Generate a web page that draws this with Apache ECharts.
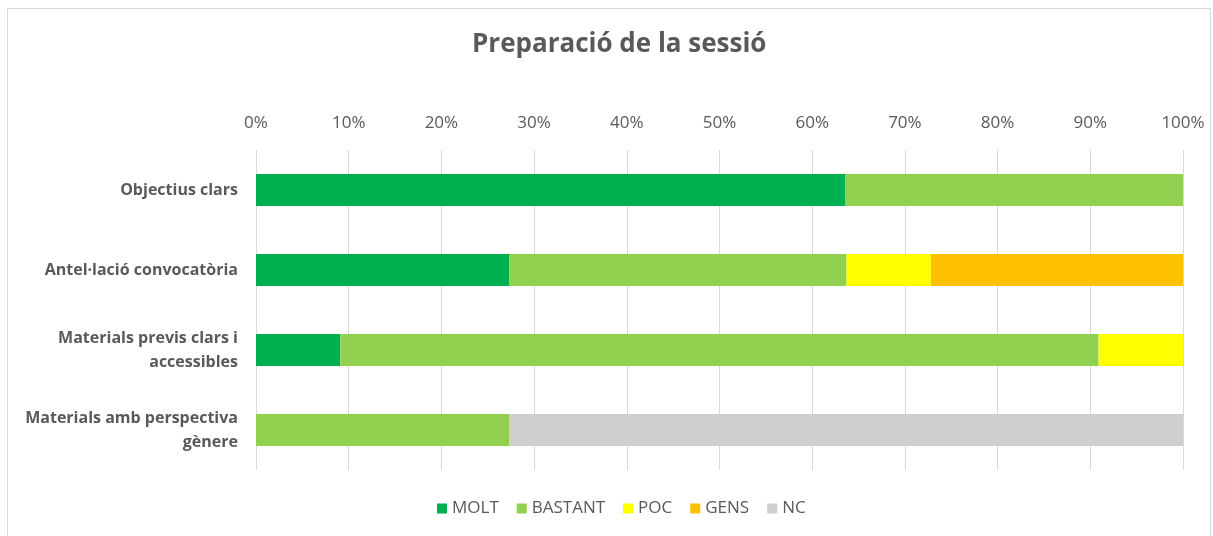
<!DOCTYPE html>
<html>
<head>
<meta charset="utf-8">
<script src="https://cdn.jsdelivr.net/npm/echarts@6/dist/echarts.min.js"></script>
<style>
  html, body { margin: 0; padding: 0; background: #fff; overflow: hidden; }
  #chart { width: 1213px; height: 536px; }
  .frame { position: absolute; left: 7px; top: 8px; width: 1202px; height: 540px; border: 1px solid #d9d9d9; pointer-events: none; }
</style>
</head>
<body>
<div id="chart"></div>
<div class="frame"></div>
<script>
// categories (top to bottom)
const categories = [
  'Objectius clars',
  'Antel·lació convocatòria',
  'Materials previs clars i\naccessibles',
  'Materials amb perspectiva\ngènere'
];

// percentages per answer
const molt    = [63.6, 27.3, 9.1, 0];
const bastant = [36.4, 36.4, 81.8, 27.3];
const poc     = [0, 9.1, 9.1, 0];
const gens    = [0, 27.3, 0, 0];
const nc      = [0, 0, 0, 72.7];

const seriesNames = ['MOLT', 'BASTANT', 'POC', 'GENS', 'NC'];
const seriesData = [molt, bastant, poc, gens, nc];
const colors = ['#00B050', '#92D050', '#FFFF00', '#FFC000', '#D0CECE'];

const chart = echarts.init(document.getElementById('chart'));

const font = '"Open Sans", "Noto Sans", sans-serif';

const option = {
  animation: false,
  textStyle: { fontFamily: font },
  title: {
    text: 'Preparació de la sessió',
    left: 467,
    top: 27,
    textStyle: { fontSize: 26, fontWeight: 'bold', color: '#595959', fontFamily: font }
  },
  legend: {
    data: seriesNames,
    bottom: 14,
    left: 432,
    itemWidth: 10,
    itemHeight: 10,
    itemGap: 18,
    icon: 'rect',
    textStyle: { fontSize: 17, color: '#595959', fontFamily: font }
  },
  grid: {
    left: 256,
    right: 30,
    top: 150,
    height: 320,
    containLabel: false
  },
  xAxis: {
    type: 'value',
    position: 'top',
    min: 0,
    max: 100,
    interval: 10,
    axisLine: { show: false },
    axisTick: { show: false },
    axisLabel: {
      formatter: '{value}%',
      color: '#595959',
      fontSize: 17,
      margin: 18
    },
    splitLine: { lineStyle: { color: '#d9d9d9', width: 1 } }
  },
  yAxis: {
    type: 'category',
    inverse: true,
    data: categories,
    axisLine: { show: false },
    axisTick: { show: false },
    axisLabel: {
      color: '#595959',
      fontSize: 16,
      fontWeight: 'bold',
      margin: 18,
      lineHeight: 24,
      align: 'right'
    }
  },
  series: seriesNames.map((name, i) => ({
    name: name,
    type: 'bar',
    stack: 'total',
    barWidth: 32,
    data: seriesData[i],
    itemStyle: { color: colors[i] }
  }))
};

chart.setOption(option);
</script>
</body>
</html>
